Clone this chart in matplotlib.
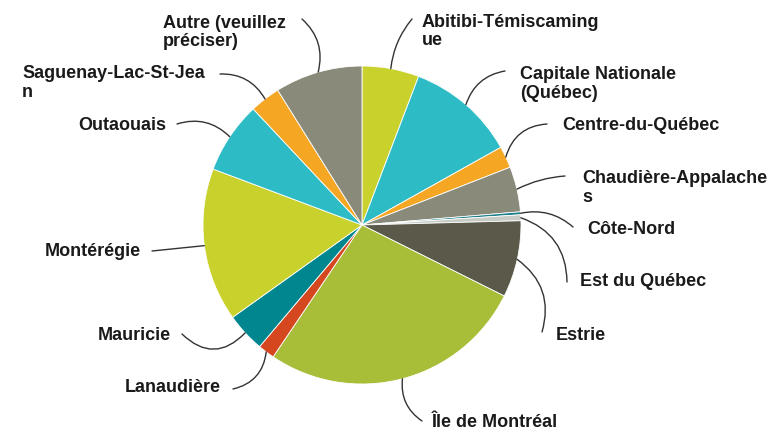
import numpy as np
import matplotlib
matplotlib.use("Agg")
import matplotlib.pyplot as plt

W, H = 782, 431

REGIONS = [
    "Abitibi-Témiscaming\nue", "Capitale Nationale\n(Québec)", "Centre-du-Québec",
    "Chaudière-Appalache\ns", "Côte-Nord", "Est du Québec", "Estrie",
    "Île de Montréal", "Lanaudière", "Mauricie", "Montérégie", "Outaouais",
    "Saguenay-Lac-St-Jea\nn", "Autre (veuillez\npréciser)",
]
SHARES = [5.8, 11.1, 2.2, 4.6, 0.3, 0.6, 7.8, 27.1, 1.7, 4.0, 15.6, 7.3, 3.1, 8.9]
COLORS = [
    "#c9d12c", "#2dbcc6", "#f5a623", "#8a8a7b", "#1d7f8a", "#c8ccc6", "#5b5a4a",
    "#a8bd38", "#d5471f", "#00868f", "#c9d12c", "#2dbcc6", "#f5a623", "#8a8a7b",
]

# label layout, in pixels from the top-left: (text left, text centre y, line start x, line start y, curvature)
LABEL_POS = [
    (422, 31.5, 412, 20, 0.15),
    (520, 84, 505, 72, 0.3),
    (562, 125, 547, 125, 0.35),
    (582, 188, 565, 177, 0.1),
    (587, 230, 573, 228, 0.25),
    (580, 282, 567, 283, 0.35),
    (556, 335, 542, 333, 0.35),
    (432, 423, 422, 422, -0.3),
    (125, 388, 233, 390, 0.35),
    (98, 335, 182, 335, 0.5),
    (45, 252, 152, 252, 0.0),
    (78, 125, 177, 125, -0.3),
    (22, 83, 220, 75, -0.3),
    (163, 32.5, 302, 20, -0.3),
]

CX, CY, R = 362, 226, 159

fig = plt.figure(figsize=(W / 100, H / 100), dpi=100)
ax = fig.add_axes([0, 0, 1, 1])

wedges, _ = ax.pie(SHARES, colors=COLORS, startangle=90, counterclock=False,
                   center=(CX, H - CY), radius=R,
                   wedgeprops=dict(edgecolor="white", linewidth=0.6))

for w, label, (tx, ty, lx, ly, rad) in zip(wedges, REGIONS, LABEL_POS):
    mid = np.deg2rad((w.theta1 + w.theta2) / 2)
    ex, ey = CX + R * np.cos(mid), H - CY + R * np.sin(mid)
    ax.annotate("", xy=(ex, ey), xytext=(lx, H - ly),
                arrowprops=dict(arrowstyle="-", color="#333333", lw=1.0,
                                shrinkA=0, shrinkB=0,
                                connectionstyle=f"arc3,rad={rad}"))
    ax.text(tx, H - ty, label, ha="left", va="center", fontsize=13,
            fontweight="bold", family="Liberation Sans", color="#1a1a1a",
            linespacing=1.15)

ax.set_xlim(0, W)
ax.set_ylim(0, H)
ax.set_aspect("equal")
ax.axis("off")

fig.savefig("out.png", dpi=100)
